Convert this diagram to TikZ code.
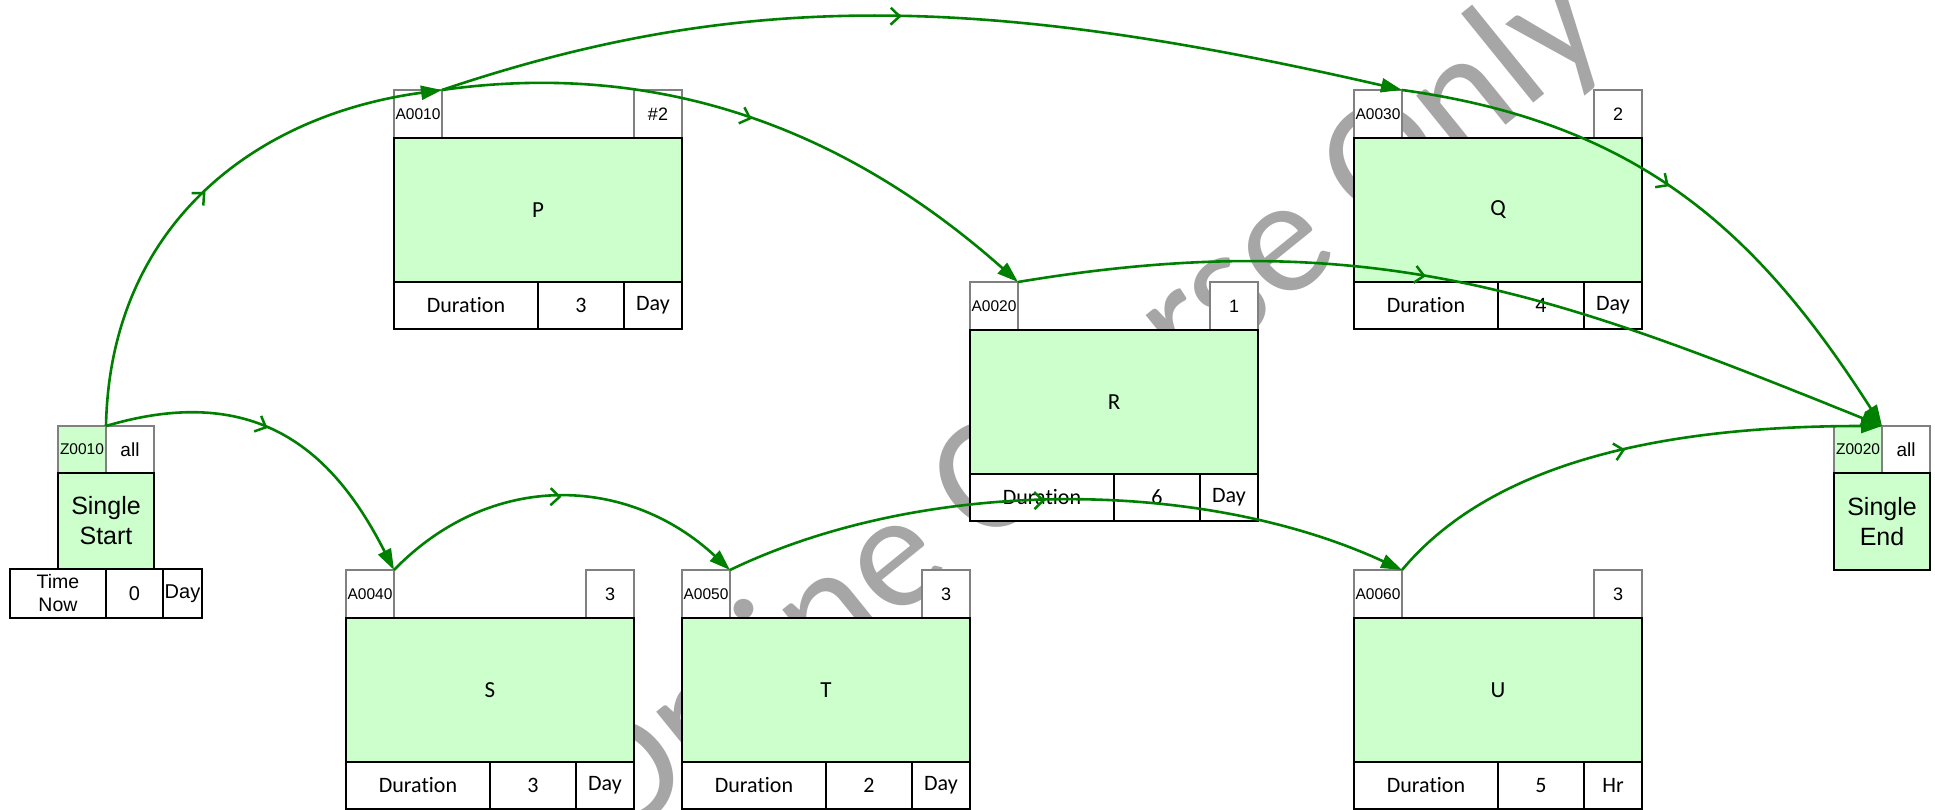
\documentclass[tikz,border=0pt]{standalone}
\usepackage{fontspec}
\setmainfont{Liberation Sans}
\newfontfamily\calib{Carlito}[Ligatures=NoCommon]
\usetikzlibrary{arrows.meta,decorations.markings}

\definecolor{actgreen}{HTML}{CCFFCC}
\definecolor{linkgreen}{HTML}{008000}
\definecolor{cellgray}{HTML}{808080}
\definecolor{wmgray}{HTML}{A6A6A6}

\tikzset{
  cell/.style={draw=cellgray, line width=1.3pt, fill=white, inner sep=0pt, outer sep=0pt,
    anchor=north west, align=center},
  body/.style={draw=black, line width=2pt, fill=actgreen, inner sep=0pt, outer sep=0pt,
    anchor=north west, align=center},
  durcell/.style={draw=black, line width=2pt, fill=white, inner sep=0pt, outer sep=0pt,
    anchor=north west, align=center},
  idfont/.style={font=\fontsize{15.5}{18}\selectfont},
  numfont/.style={font=\fontsize{18}{20}\selectfont},
  titlefont/.style={font=\calib\fontsize{23}{26}\selectfont},
  durfont/.style={font=\calib\fontsize{22}{26}\selectfont},
  link/.style={draw=linkgreen, color=linkgreen, line width=2.6pt,
    -{Triangle[length=21pt,width=14pt]},
    decoration={markings, mark=at position #1 with
      {\arrow{Straight Barb[length=9pt,width=17pt,line width=2.5pt]}}},
    postaction={decorate}},
}

% activity box: name, left, top, id, count, title, duration, unit
\newcommand\actbox[8]{%
  \node[cell, idfont, minimum width=48pt, minimum height=48pt] (#1-id) at (#2,#3) {#4};
  \node[cell, numfont, minimum width=48pt, minimum height=48pt] (#1-num) at ({#2+240},#3) {#5};
  \node[body, titlefont, minimum width=288pt, minimum height=144pt] (#1) at (#2,{#3+48}) {#6};
  \node[durcell, durfont, minimum width=144pt, minimum height=47pt] (#1-dl) at (#2,{#3+192}) {Duration};
  \node[durcell, durfont, minimum width=86pt, minimum height=47pt] (#1-dv) at ({#2+144},{#3+192}) {#7};
  \node[durcell, durfont, minimum width=58pt, minimum height=47pt] (#1-du) at ({#2+230},{#3+192}) {#8};
}

\begin{document}
\begin{tikzpicture}[x=1pt, y=-1pt]
\fill[white] (0,0) rectangle (1935,810);
\useasboundingbox (0,0) rectangle (1935,810);

% watermark behind everything
\node[rotate=39, text=wmgray, font=\calib\fontsize{165}{165}\selectfont] (wm) at (1085,410) {Online Course Only};

% start milestone
\node[cell, idfont, fill=actgreen, minimum width=48pt, minimum height=47pt] (start-id) at (58,426) {Z0010};
\node[cell, font=\fontsize{19}{22}\selectfont, minimum width=48pt, minimum height=47pt] (start-all) at (106,426) {all};
\node[body, font=\fontsize{25}{30}\selectfont, minimum width=96pt, minimum height=96pt] (start) at (58,473) {Single\\Start};
\node[durcell, font=\fontsize{19.5}{23}\selectfont, minimum width=96pt, minimum height=49pt] (start-tl) at (10,569) {Time\\Now};
\node[durcell, font=\fontsize{20}{22}\selectfont, minimum width=57pt, minimum height=49pt] (start-tv) at (106,569) {0};
\node[durcell, font=\fontsize{20}{22}\selectfont, minimum width=39pt, minimum height=49pt] (start-tu) at (163,569) {Day};

% end milestone
\node[cell, idfont, fill=actgreen, minimum width=48pt, minimum height=47pt] (end-id) at (1834,426) {Z0020};
\node[cell, font=\fontsize{19}{22}\selectfont, minimum width=48pt, minimum height=47pt] (end-all) at (1882,426) {all};
\node[body, font=\fontsize{25}{30}\selectfont, minimum width=96pt, minimum height=97pt] (end) at (1834,473) {Single\\End};

% activities
\actbox{P}{394}{90}{A0010}{\#2}{P}{3}{Day}
\actbox{Q}{1354}{90}{A0030}{2}{Q}{4}{Day}
\actbox{R}{970}{282}{A0020}{1}{R}{6}{Day}
\actbox{S}{346}{570}{A0040}{3}{S}{3}{Day}
\actbox{T}{682}{570}{A0050}{3}{T}{2}{Day}
\actbox{U}{1354}{570}{A0060}{3}{U}{5}{Hr}

% relationships
\draw[link=0.5]  (start-id.north east) .. controls (110,225) and (255,115) .. (P-id.north east);
\draw[link=0.48] (P-id.north east) .. controls (744,-12) and (988,-5) .. (Q-id.north east);
\draw[link=0.5]  (P-id.north east) .. controls (640,62) and (830,115) .. (R-id.north east);
\draw[link=0.46] (R-id.north east) .. controls (1371,223) and (1557,295) .. (end-id.north east);
\draw[link=0.47] (Q-id.north east) .. controls (1640,123) and (1758,232) .. (end-id.north east);
\draw[link=0.46] (start-id.north east) .. controls (261,380) and (336,456) .. (S-id.north east);
\draw[link=0.5]  (S-id.north east) .. controls (491,470) and (628,475) .. (T-id.north east);
\draw[link=0.47] (T-id.north east) .. controls (925,476) and (1203,478) .. (U-id.north east);
\draw[link=0.5]  (U-id.north east) .. controls (1498,455) and (1682,426) .. (end-id.north east);
\end{tikzpicture}
\end{document}
